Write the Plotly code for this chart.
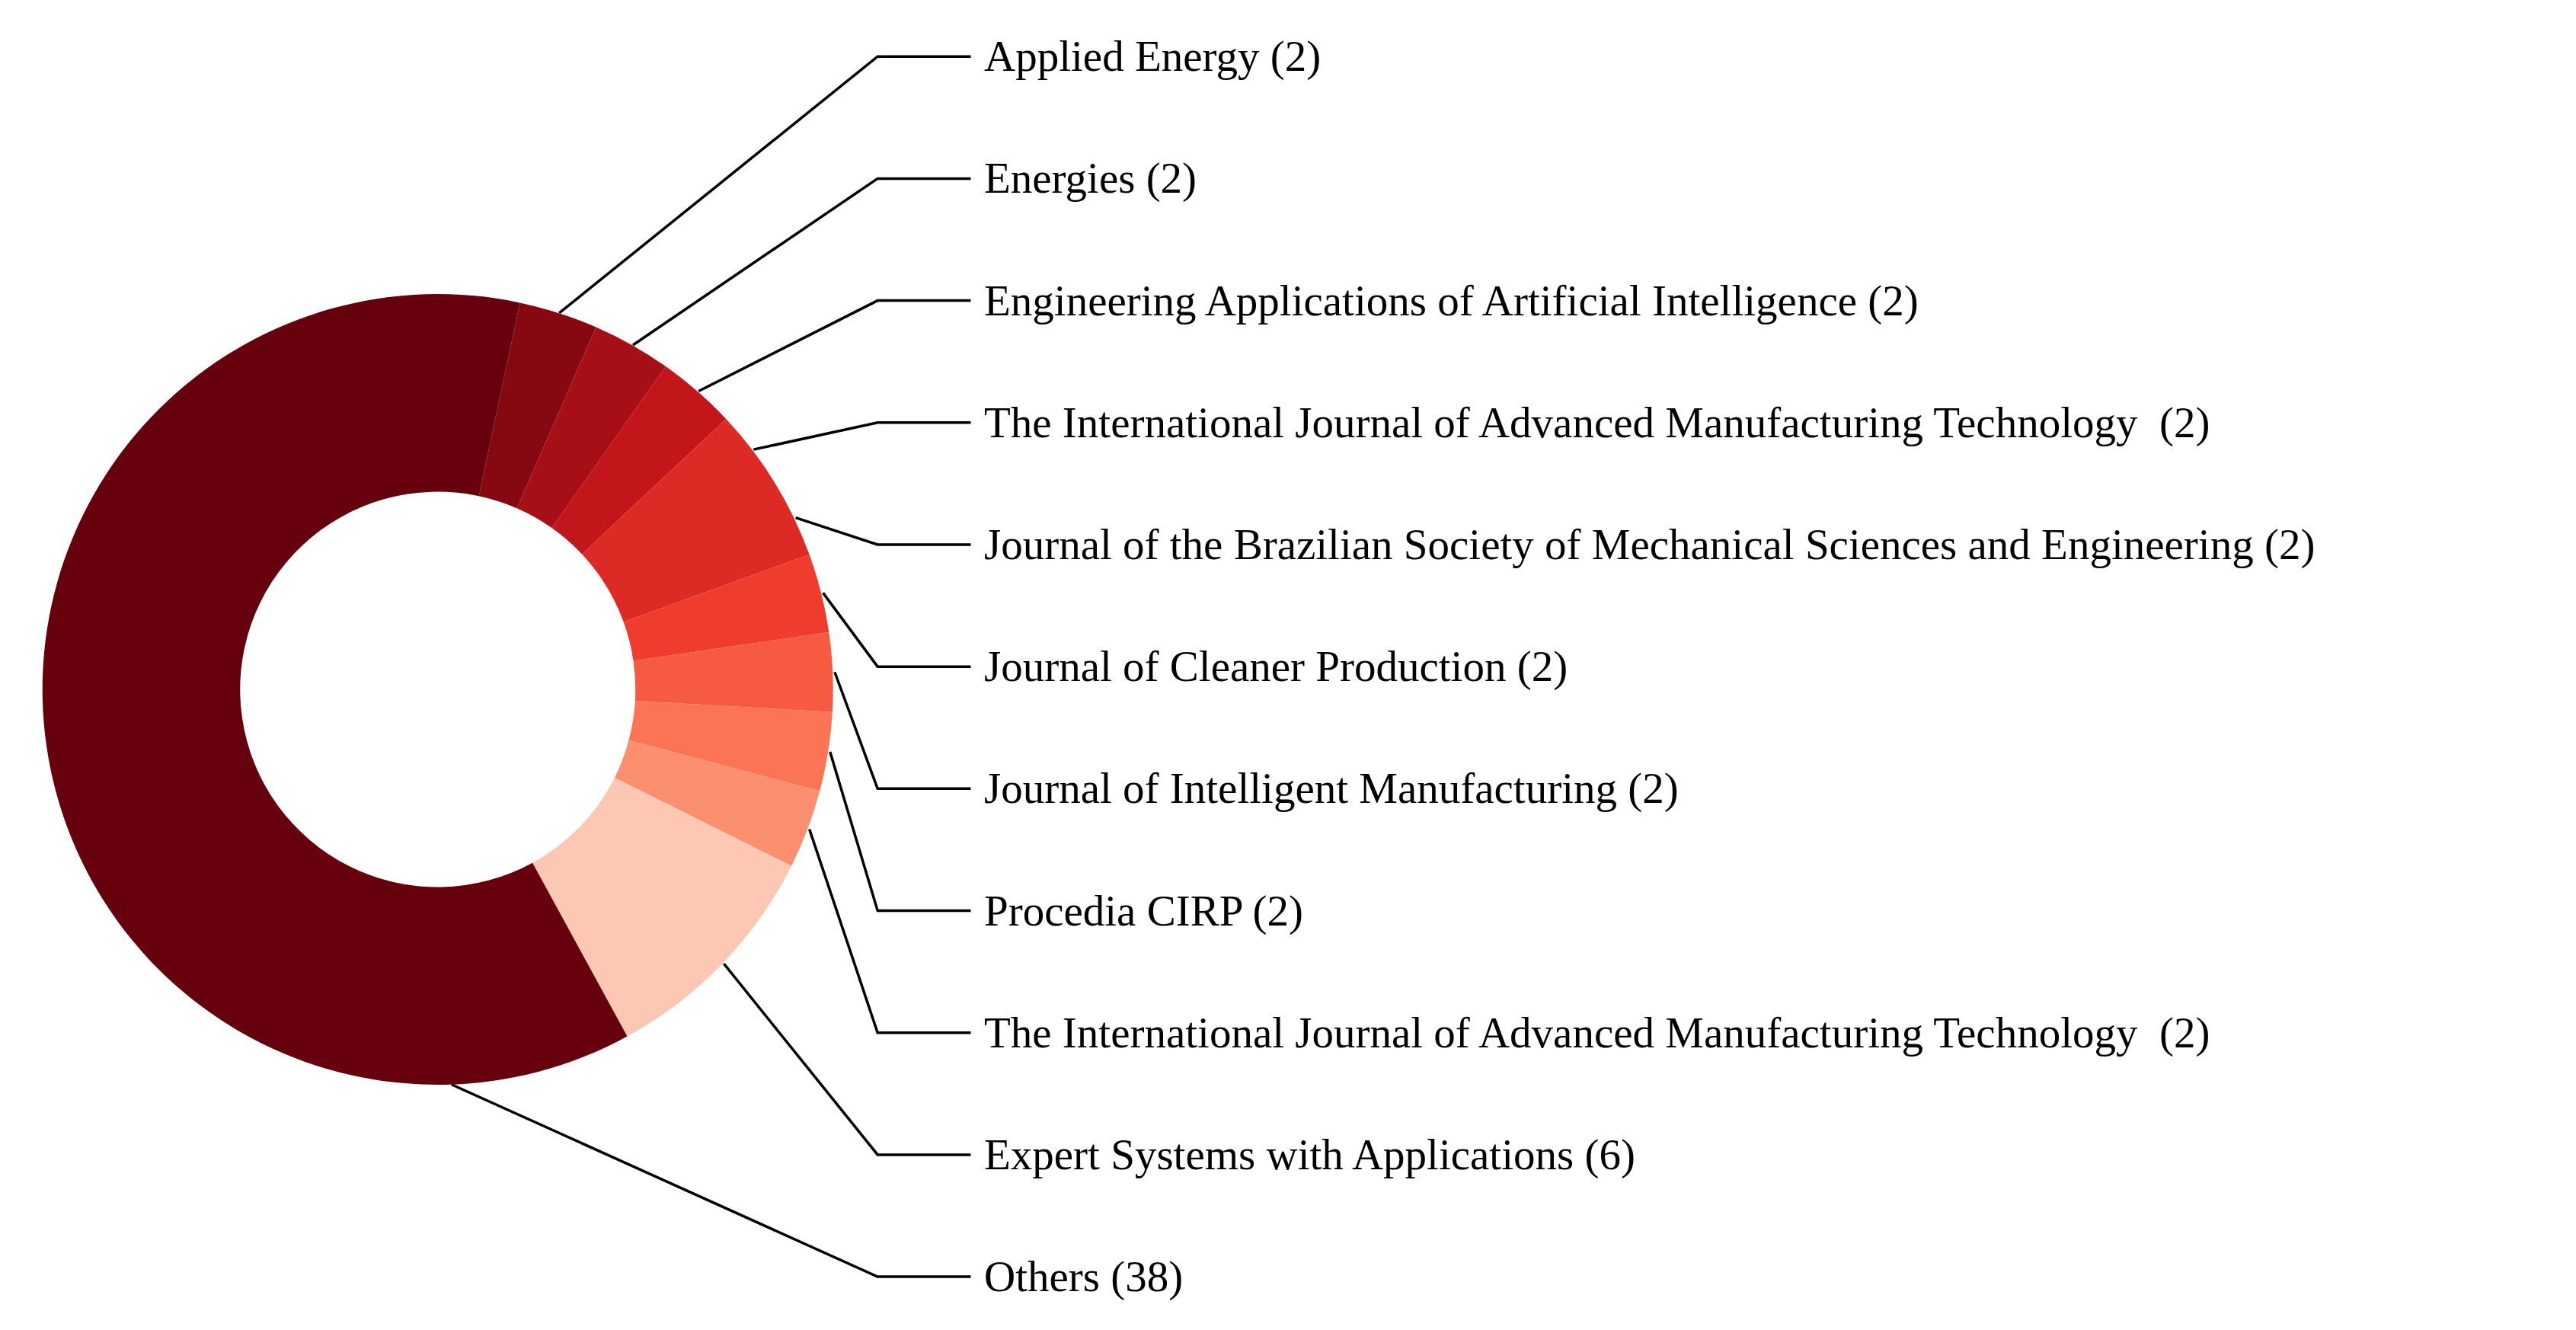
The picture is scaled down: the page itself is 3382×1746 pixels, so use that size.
import math
import plotly.graph_objects as go

labels = ["Applied Energy", "Energies", "Engineering Applications of Artificial Intelligence",
          "The International Journal of Advanced Manufacturing Technology ",
          "Journal of the Brazilian Society of Mechanical Sciences and Engineering",
          "Journal of Cleaner Production", "Journal of Intelligent Manufacturing",
          "Procedia CIRP", "The International Journal of Advanced Manufacturing Technology ",
          "Expert Systems with Applications", "Others"]
values = [2, 2, 2, 2, 2, 2, 2, 2, 2, 6, 38]
colors = ['#860811', '#a50f15', '#c3161b', '#dd2a25', '#ef3c2c', '#f65a40',
          '#fb7555', '#fc8f6f', '#fcab8f', '#fdc8b3', '#67000d']

W, H = 1568.0, 810.0
cx, cy, R = 264.0, 420.0, 243.0
rotation = 12
px = lambda x: x / W
py = lambda y: 1 - y / H

fig = go.Figure(go.Pie(
    labels=labels, values=values, sort=False, direction="clockwise", rotation=rotation,
    hole=0.5, marker=dict(colors=colors, line=dict(width=0)), textinfo="none",
    hoverinfo="label+value", domain=dict(x=[px(cx - R), px(cx + R)], y=[py(cy + R), py(cy - R)]),
    showlegend=False))

total = sum(values)
cum = 0
shapes, annots = [], []
n = len(values)
for i, (lab, v) in enumerate(zip(labels, values)):
    mid = rotation + (cum + v / 2) / total * 360
    cum += v
    mid = min(mid, 178)
    a = math.radians(mid)
    x0 = cx + R * math.sin(a)
    y0 = cy - R * math.cos(a)
    ly = 31 + i * (781 - 31) / (n - 1)
    ex = 533
    shapes.append(dict(type="path", xref="paper", yref="paper",
                       path=f"M {px(x0)} {py(y0)} L {px(ex)} {py(ly)} L {px(590)} {py(ly)}",
                       line=dict(color="black", width=3.5)))
    annots.append(dict(x=px(597), y=py(ly), xref="paper", yref="paper", xanchor="left",
                       yanchor="middle", showarrow=False, text=f"{lab} ({v})",
                       font=dict(family="Liberation Serif", size=57, color="black")))

fig.update_layout(shapes=shapes, annotations=annots, margin=dict(l=0, r=0, t=0, b=0),
                  paper_bgcolor="white", plot_bgcolor="white")
fig.write_html("out.html")
